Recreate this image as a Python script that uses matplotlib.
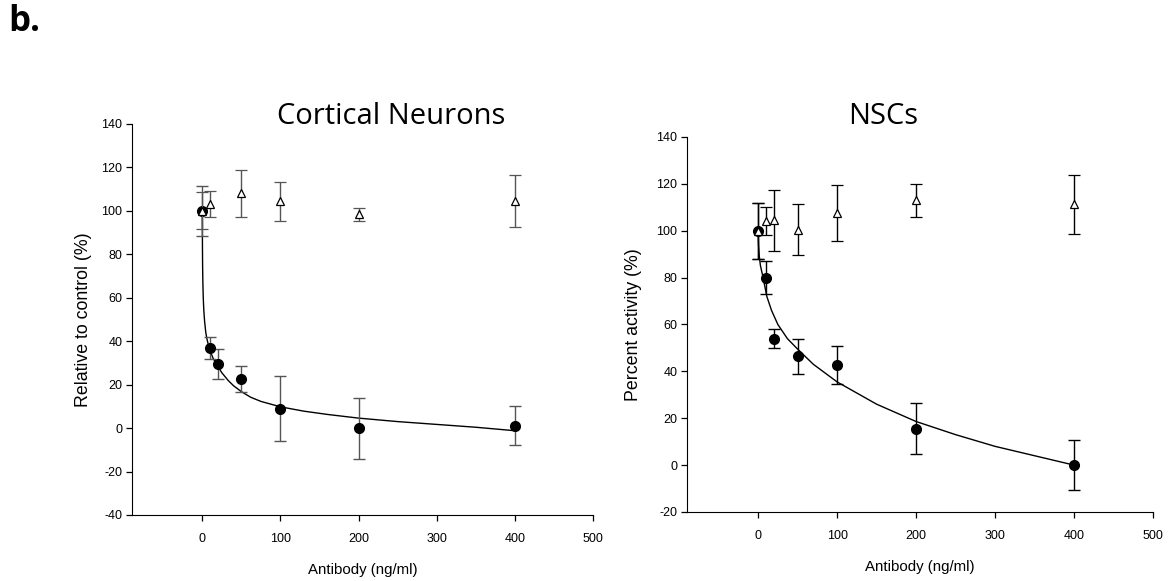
import numpy as np
import matplotlib.pyplot as plt

# Antibody dose response: cortical neurons (left) and NSCs (right)

dose = [0, 10, 20, 50, 100, 200, 400]

# cortical neurons
cn_filled = [100, 37, 29.5, 22.5, 9, 0, 1]
cn_filled_err = [11.5, 5, 7, 6, 15, 14, 9]
cn_open = [100, 103, 108, 104.5, 98.5, 104.5]
cn_open_dose = [0, 10, 50, 100, 200, 400]
cn_open_err = [8.5, 6, 11, 9, 3, 12]
cn_fit_x = [0, 0.2, 0.4, 0.8, 1.3, 2, 3, 4.5, 6, 8, 10.6, 14, 19, 25, 33, 40, 50,
            62, 75, 100, 130, 160, 200, 250, 300, 350, 400]
cn_fit_y = [100, 85, 75, 66, 59.5, 54, 49, 44, 41, 38, 35, 32, 29, 25.5, 22, 19.5, 16.8,
            14.2, 12.3, 9.8, 7.8, 6.3, 4.6, 3, 1.7, 0.4, -1.2]

# NSCs
nsc_filled = [100, 80, 54, 46.5, 42.7, 15.6, 0]
nsc_filled_err = [12, 7, 4, 7.5, 8, 11, 10.5]
nsc_open = [100, 104, 104.5, 100.5, 107.7, 113, 111.3]
nsc_open_err = [12, 6, 13, 11, 12, 7, 12.6]
nsc_fit_x = [0, 0.5, 1.5, 3, 6, 11, 17, 25, 37, 50, 70, 100, 150, 200, 250, 300, 350, 400]
nsc_fit_y = [100, 94, 89, 85, 80.5, 72, 66, 60, 54, 49.5, 43, 35.5, 26, 18.6, 13, 8, 4, 0]

plt.rcParams['font.family'] = ['Liberation Sans', 'DejaVu Sans']
plt.rcParams['axes.unicode_minus'] = False

fig = plt.figure(figsize=(11.72, 5.81), dpi=100)

ax1 = fig.add_axes([0.1126, 0.1136, 0.3933, 0.673])
ax2 = fig.add_axes([0.5862, 0.1188, 0.3976, 0.6454])


def style(ax, ylo, yhi, ylabel, labx):
    ax.set_xlim(-90, 500)
    ax.set_ylim(ylo, yhi)
    ax.set_xticks(range(0, 501, 100))
    ax.set_yticks(range(ylo, yhi + 1, 20))
    ax.spines['top'].set_visible(False)
    ax.spines['right'].set_visible(False)
    ax.tick_params(axis='x', length=4, width=0.9, pad=9, labelsize=9)
    ax.tick_params(axis='y', length=4, width=0.9, pad=3, labelsize=9)
    ax.set_xlabel('Antibody (ng/ml)', fontsize=10.8, labelpad=13)
    ax.set_ylabel(ylabel, fontsize=12.8)
    ax.yaxis.set_label_coords(labx, 0.5)


# left panel
ax1.plot(cn_fit_x, cn_fit_y, color='black', lw=1, zorder=2)
ax1.errorbar(dose, cn_filled, yerr=cn_filled_err, fmt='o', color='black', ms=7,
             ecolor='#555555', elinewidth=1, capsize=4.3, capthick=1, zorder=3)
ax1.errorbar(cn_open_dose, cn_open, yerr=cn_open_err, fmt='^', mfc='white', mec='black',
             ms=6, mew=0.9, ecolor='#555555', elinewidth=1, capsize=4.3, capthick=1, zorder=4)
style(ax1, -40, 140, 'Relative to control (%)', -0.087)

# right panel
ax2.plot(nsc_fit_x, nsc_fit_y, color='black', lw=1, zorder=2)
ax2.errorbar(dose, nsc_filled, yerr=nsc_filled_err, fmt='o', color='black', ms=7,
             ecolor='black', elinewidth=1, capsize=4.3, capthick=1, zorder=3)
ax2.errorbar(dose, nsc_open, yerr=nsc_open_err, fmt='^', mfc='white', mec='black',
             ms=6, mew=0.9, ecolor='black', elinewidth=1, capsize=4.3, capthick=1, zorder=4)
style(ax2, -20, 140, 'Percent activity (%)', -0.097)

fig.text(391 / 1172, 1 - 116 / 581, 'Cortical Neurons', ha='center', va='center',
         fontsize=21, family='Open Sans')
fig.text(883 / 1172, 1 - 116 / 581, 'NSCs', ha='center', va='center',
         fontsize=21, family='Open Sans')
fig.text(8 / 1172, 1 - 22 / 581, 'b.', ha='left', va='center',
         fontsize=25, fontweight='bold', family='Open Sans')

fig.savefig('out.png', dpi=100)
